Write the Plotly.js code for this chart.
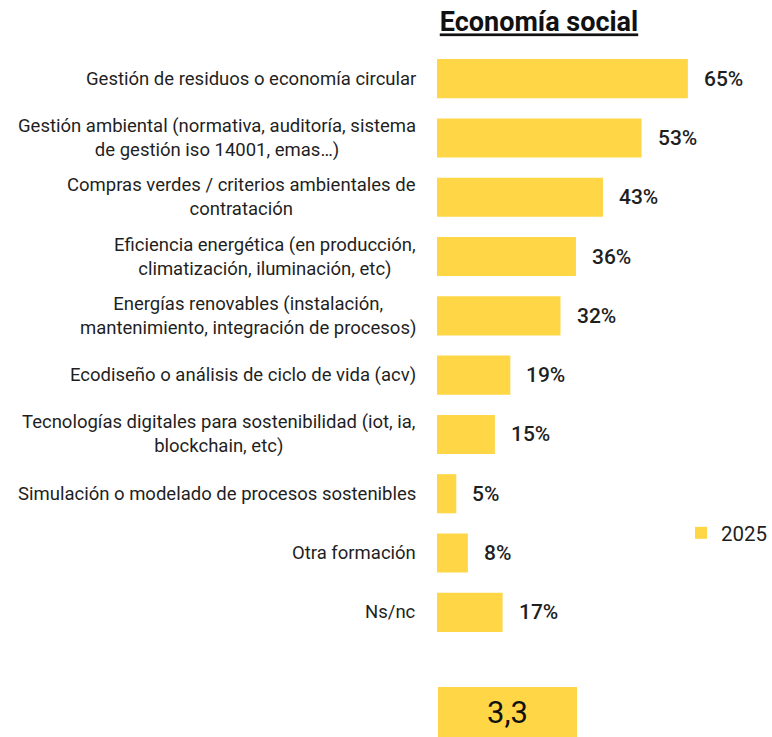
<!DOCTYPE html>
<html>
<head>
<meta charset="utf-8">
<script src="https://cdn.plot.ly/plotly-3.0.1.min.js"></script>
<style>html,body{margin:0;padding:0;background:#fff;}#chart{width:772px;height:737px;}</style>
</head>
<body>
<div id="chart"></div>
<script>
const categories = [
  "Gestión de residuos o economía circular",
  "Gestión ambiental (normativa, auditoría, sistema<br>de gestión iso 14001, emas…)",
  "Compras verdes / criterios ambientales de<br>contratación",
  "Eficiencia energética (en producción,<br>climatización, iluminación, etc)",
  "Energías renovables (instalación,<br>mantenimiento, integración de procesos)",
  "Ecodiseño o análisis de ciclo de vida (acv)",
  "Tecnologías digitales para sostenibilidad (iot, ia,<br>blockchain, etc)",
  "Simulación o modelado de procesos sostenibles",
  "Otra formación",
  "Ns/nc"
];
const values2025 = [65, 53, 43, 36, 32, 19, 15, 5, 8, 17];
const seriesName = "2025";
const chartTitle = "Economía social";
const scoreText = "3,3";

const yellow = "#FFD645";
const textColor = "#1f1f1f";

const trace = {
  type: "bar",
  orientation: "h",
  y: categories,
  x: values2025,
  name: seriesName,
  marker: {color: yellow},
  width: 0.66,
  hoverinfo: "none"
};

const annotations = [];
categories.forEach((c, i) => {
  annotations.push({
    xref: "paper", yref: "y", x: 0, y: c,
    xanchor: "right", yanchor: "middle", xshift: -19,
    text: c, align: "center", showarrow: false,
    font: {family: "Roboto", size: 18.5, color: textColor}
  });
  annotations.push({
    xref: "x", yref: "y", x: values2025[i], y: c,
    xanchor: "left", yanchor: "middle", xshift: 14,
    text: values2025[i] + "%", showarrow: false,
    font: {family: "Roboto", size: 21, color: textColor, weight: 500}
  });
});
annotations.push({
  xref: "paper", yref: "paper", x: 0.003, y: -0.0767,
  xanchor: "left", yanchor: "top",
  text: scoreText, showarrow: false,
  bgcolor: yellow, width: 139, height: 50, borderpad: 0, borderwidth: 0,
  font: {family: "Roboto", size: 31, color: "#111"}
});

const layout = {
  width: 772, height: 737,
  margin: {l: 437, r: 0, t: 49.4, b: 95.4, pad: 0, autoexpand: false},
  paper_bgcolor: "#fff", plot_bgcolor: "#fff",
  title: {
    text: "<u>" + chartTitle + "</u>",
    font: {family: "Roboto", size: 27, color: "#111", weight: 700},
    x: 539 / 772, xanchor: "center", xref: "container",
    y: 1 - 22 / 737, yanchor: "middle", yref: "container"
  },
  xaxis: {range: [0, 86.8], visible: false, fixedrange: true},
  yaxis: {type: "category", range: [9.5, -0.5], showticklabels: false,
          showgrid: false, zeroline: false, showline: false, ticks: ""},
  showlegend: true,
  legend: {
    xref: "container", yref: "container",
    x: 681 / 772, y: 1 - 533 / 737, xanchor: "left", yanchor: "middle",
    font: {family: "Roboto", size: 20.5, color: textColor},
    bgcolor: "rgba(0,0,0,0)", itemwidth: 30
  },
  annotations: annotations,
  bargap: 0.34
};

Plotly.newPlot("chart", [trace], layout, {displayModeBar: false, staticPlot: true});
</script>
</body>
</html>
